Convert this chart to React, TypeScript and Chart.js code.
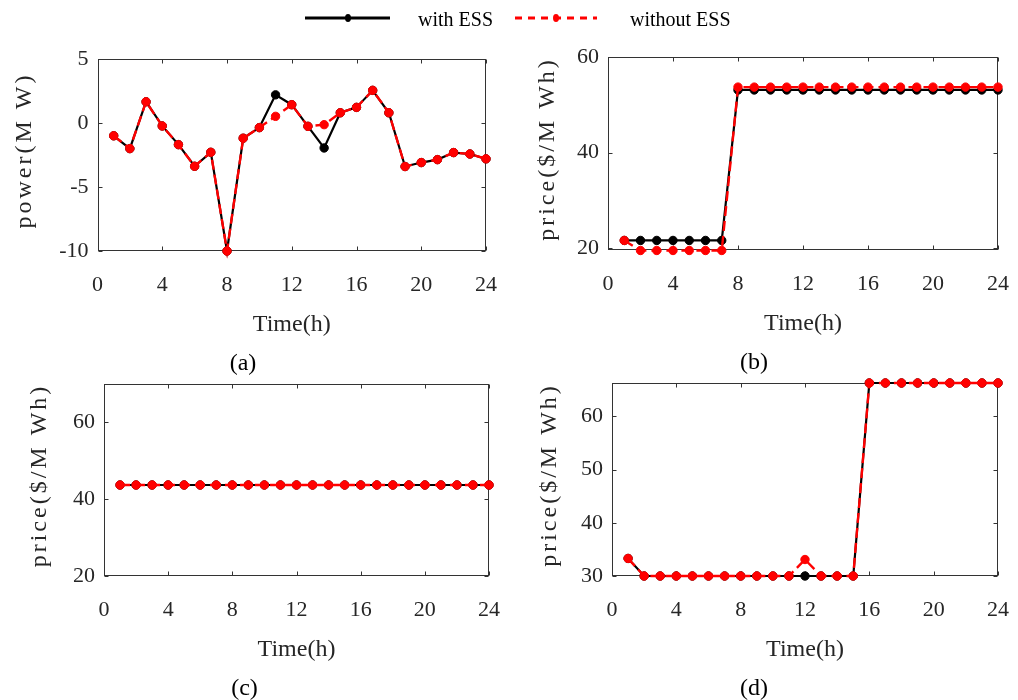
import React, { useEffect, useRef } from 'react';
import { Chart, registerables } from 'chart.js';

Chart.register(...registerables);

// ---------------- data ----------------
const hours = [1, 2, 3, 4, 5, 6, 7, 8, 9, 10, 11, 12, 13, 14, 15, 16, 17, 18, 19, 20, 21, 22, 23, 24];
const seriesLabels = ['with ESS', 'without ESS'];
const panelLabels = ['(a)', '(b)', '(c)', '(d)'];
const xTitle = 'Time(h)';
const yTitles = ['power(M W)', 'price($/M Wh)', 'price($/M Wh)', 'price($/M Wh)'];

const powerWithESS = [-1.0, -2.0, 1.66, -0.23, -1.69, -3.38, -2.29, -10.0, -1.19, -0.36, 2.2, 1.43, -0.26, -1.95, 0.8, 1.22, 2.55, 0.8, -3.4, -3.09, -2.86, -2.31, -2.42, -2.8];
const powerWithoutESS = [-1.0, -2.0, 1.66, -0.23, -1.69, -3.38, -2.29, -10.0, -1.19, -0.36, 0.52, 1.43, -0.26, -0.13, 0.8, 1.22, 2.55, 0.8, -3.4, -3.09, -2.86, -2.31, -2.42, -2.8];

const priceBWithESS = [21.6, 21.6, 21.6, 21.6, 21.6, 21.6, 21.6, 53.1, 53.1, 53.1, 53.1, 53.1, 53.1, 53.1, 53.1, 53.1, 53.1, 53.1, 53.1, 53.1, 53.1, 53.1, 53.1, 53.1];
const priceBWithoutESS = [21.6, 19.5, 19.5, 19.5, 19.5, 19.5, 19.5, 53.7, 53.7, 53.7, 53.7, 53.7, 53.7, 53.7, 53.7, 53.7, 53.7, 53.7, 53.7, 53.7, 53.7, 53.7, 53.7, 53.7];

const priceCWithESS = [43.7, 43.7, 43.7, 43.7, 43.7, 43.7, 43.7, 43.7, 43.7, 43.7, 43.7, 43.7, 43.7, 43.7, 43.7, 43.7, 43.7, 43.7, 43.7, 43.7, 43.7, 43.7, 43.7, 43.7];
const priceCWithoutESS = [43.7, 43.7, 43.7, 43.7, 43.7, 43.7, 43.7, 43.7, 43.7, 43.7, 43.7, 43.7, 43.7, 43.7, 43.7, 43.7, 43.7, 43.7, 43.7, 43.7, 43.7, 43.7, 43.7, 43.7];

const priceDWithESS = [33.3, 30, 30, 30, 30, 30, 30, 30, 30, 30, 30, 30, 30, 30, 30, 66.3, 66.3, 66.3, 66.3, 66.3, 66.3, 66.3, 66.3, 66.3];
const priceDWithoutESS = [33.3, 30, 30, 30, 30, 30, 30, 30, 30, 30, 30, 33.1, 30, 30, 30, 66.3, 66.3, 66.3, 66.3, 66.3, 66.3, 66.3, 66.3, 66.3];

const xRange = [0, 24];
const xStep = 4;
const yRangeA = [-10, 5];
const yStepA = 5;
const yRangeB = [19.6, 60];
const yStepB = 20;
const yRangeC = [20, 70];
const yStepC = 20;
const yRangeD = [30, 66.3];
const yStepD = 10;

// ---------------- styles ----------------
const FONT = '"Liberation Serif", "Times New Roman", serif';
const AXIS_COLOR = '#333333';
const TEXT_COLOR = '#262626';
const BLACK = '#000000';
const RED = '#ff0000';
const DASH = [10, 5];

type Panel = {
  left: number; top: number; width: number;
  padTop: number; padRight: number; plotH: number; yAxisW: number; titleOff: number;
  yMin: number; yMax: number; yStep: number; yFirstTick: number;
  withESS: number[]; withoutESS: number[]; label: string; yTitle: string;
};

const X_AXIS_H = 92;
const TITLE_SIZE = 24;
const TITLE_PAD_TOP = 6.6;
const TITLE_BOX = TITLE_SIZE * 1.2 + TITLE_PAD_TOP;

const panels: Panel[] = [
  { left: 0, top: 40, width: 510, padTop: 19, padRight: 24, plotH: 192, yAxisW: 97.5, titleOff: 73,
    yMin: yRangeA[0], yMax: yRangeA[1], yStep: yStepA, yFirstTick: -10,
    withESS: powerWithESS, withoutESS: powerWithoutESS, label: panelLabels[0], yTitle: yTitles[0] },
  { left: 510, top: 40, width: 508, padTop: 17, padRight: 20, plotH: 193, yAxisW: 98, titleOff: 60,
    yMin: yRangeB[0], yMax: yRangeB[1], yStep: yStepB, yFirstTick: 20,
    withESS: priceBWithESS, withoutESS: priceBWithoutESS, label: panelLabels[1], yTitle: yTitles[1] },
  { left: 0, top: 370, width: 510, padTop: 14, padRight: 21, plotH: 192, yAxisW: 104, titleOff: 64,
    yMin: yRangeC[0], yMax: yRangeC[1], yStep: yStepC, yFirstTick: 20,
    withESS: priceCWithESS, withoutESS: priceCWithoutESS, label: panelLabels[2], yTitle: yTitles[2] },
  { left: 510, top: 370, width: 508, padTop: 13, padRight: 20, plotH: 193, yAxisW: 102, titleOff: 62,
    yMin: yRangeD[0], yMax: yRangeD[1], yStep: yStepD, yFirstTick: 30,
    withESS: priceDWithESS, withoutESS: priceDWithoutESS, label: panelLabels[3], yTitle: yTitles[3] },
];

function canvasHeight(p: Panel) {
  return Math.ceil(p.padTop + p.plotH + X_AXIS_H + TITLE_BOX + 2);
}

// box with inward tick marks (MATLAB style)
const boxPlugin = {
  id: 'matlabBox',
  beforeDatasetsDraw(chart: any) {
    const { ctx, chartArea } = chart;
    const L = Math.round(chartArea.left) + 0.5;
    const R = Math.round(chartArea.right) - 0.5;
    const T = Math.round(chartArea.top) + 0.5;
    const B = Math.round(chartArea.bottom) - 0.5;
    ctx.save();
    ctx.strokeStyle = AXIS_COLOR;
    ctx.lineWidth = 1;
    ctx.strokeRect(L, T, R - L, B - T);
    const tl = 4;
    ctx.beginPath();
    for (const t of chart.scales.x.ticks) {
      const px = Math.round(chart.scales.x.getPixelForValue(t.value)) + 0.5;
      ctx.moveTo(px, B); ctx.lineTo(px, B - tl);
      ctx.moveTo(px, T); ctx.lineTo(px, T + tl);
    }
    for (const t of chart.scales.y.ticks) {
      const py = Math.round(chart.scales.y.getPixelForValue(t.value)) + 0.5;
      ctx.moveTo(L, py); ctx.lineTo(L + tl, py);
      ctx.moveTo(R, py); ctx.lineTo(R - tl, py);
    }
    ctx.stroke();
    ctx.restore();
  },
};

// letter-spaced rotated y title
const yTitlePlugin = {
  id: 'yTitle',
  afterDraw(chart: any, _args: any, opts: any) {
    const { ctx, chartArea } = chart;
    ctx.save();
    ctx.translate(chartArea.left - opts.offset, (chartArea.top + chartArea.bottom) / 2 - 3);
    ctx.rotate(-Math.PI / 2);
    (ctx as any).letterSpacing = '3px';
    ctx.font = `24px ${FONT}`;
    ctx.fillStyle = TEXT_COLOR;
    ctx.textAlign = 'center';
    ctx.textBaseline = 'middle';
    ctx.fillText(opts.text, 1.5, 0);
    ctx.restore();
  },
};

function toPoints(arr: number[]) {
  return hours.map((h, i) => ({ x: h, y: arr[i] }));
}

function makeConfig(p: Panel): any {
  const h = canvasHeight(p);
  const padBottom = h - (p.padTop + p.plotH + X_AXIS_H + TITLE_BOX);
  return {
    type: 'line',
    data: {
      datasets: [
        {
          label: seriesLabels[0], data: toPoints(p.withESS),
          borderColor: BLACK, backgroundColor: BLACK, borderWidth: 2.2,
          pointRadius: 4.2, pointBorderWidth: 1, pointBackgroundColor: BLACK, pointBorderColor: BLACK,
          tension: 0, clip: false, order: 1,
        },
        {
          label: seriesLabels[1], data: toPoints(p.withoutESS),
          borderColor: RED, backgroundColor: RED, borderWidth: 2.4, borderDash: DASH,
          pointRadius: 4.2, pointBorderWidth: 1, pointBackgroundColor: RED, pointBorderColor: RED,
          tension: 0, clip: false, order: 0,
        },
      ],
    },
    options: {
      animation: false,
      responsive: false,
      events: [],
      layout: {
        autoPadding: false,
        padding: { top: p.padTop, right: p.padRight, bottom: padBottom, left: 0 },
      },
      scales: {
        x: {
          type: 'linear', min: xRange[0], max: xRange[1],
          grid: { display: false, drawTicks: false }, border: { display: false },
          ticks: { stepSize: xStep, padding: 21, color: TEXT_COLOR, font: { family: FONT, size: 22 }, maxRotation: 0, includeBounds: false },
          title: { display: true, text: xTitle, color: TEXT_COLOR, font: { family: FONT, size: TITLE_SIZE }, padding: { top: 0, bottom: 3.6 } },
          afterFit: (axis: any) => {
            axis.height = X_AXIS_H;
            axis.paddingLeft = 0; axis.paddingRight = 0; axis.paddingTop = 0; axis.paddingBottom = 0;
          },
        },
        y: {
          type: 'linear', min: p.yMin, max: p.yMax,
          grid: { display: false, drawTicks: false }, border: { display: false },
          ticks: {
            stepSize: p.yStep, padding: 9, color: TEXT_COLOR, font: { family: FONT, size: 22 }, includeBounds: false,
          },
          afterBuildTicks: (axis: any) => {
            const ticks = [];
            for (let v = p.yFirstTick; v <= p.yMax + 1e-9; v += p.yStep) ticks.push({ value: v });
            axis.ticks = ticks;
          },
          afterFit: (axis: any) => {
            axis.width = p.yAxisW;
            axis.paddingLeft = 0; axis.paddingRight = 0; axis.paddingTop = 0; axis.paddingBottom = 0;
          },
        },
      },
      plugins: {
        legend: { display: false },
        tooltip: { enabled: false },
        title: {
          display: true, text: p.label, position: 'bottom', color: BLACK,
          font: { family: FONT, size: TITLE_SIZE, weight: 'normal' },
          padding: { top: TITLE_PAD_TOP, bottom: 0 },
        },
        yTitle: { text: p.yTitle, offset: p.titleOff },
      },
    },
    plugins: [boxPlugin, yTitlePlugin],
  };
}

// legend (figure level)
const legendItems = [
  { x0: 305, x1: 390, marker: 348, textX: 418 },
  { x0: 515, x1: 597, marker: 556, textX: 630 },
];
const legendPlugin = {
  id: 'figLegend',
  afterDraw(chart: any) {
    const { ctx } = chart;
    const y = 18;
    chart.data.datasets.forEach((ds: any, i: number) => {
      const it = legendItems[i];
      ctx.save();
      ctx.strokeStyle = ds.borderColor;
      ctx.lineWidth = 3;
      ctx.setLineDash(ds.borderDash || []);
      ctx.beginPath();
      ctx.moveTo(it.x0, y);
      ctx.lineTo(it.x1, y);
      ctx.stroke();
      ctx.setLineDash([]);
      ctx.fillStyle = ds.borderColor;
      ctx.beginPath();
      ctx.ellipse(it.marker, y, 3, 4, 0, 0, Math.PI * 2);
      ctx.fill();
      ctx.fillStyle = BLACK;
      ctx.font = `20px ${FONT}`;
      ctx.textAlign = 'left';
      ctx.textBaseline = 'middle';
      ctx.fillText(ds.label, it.textX, y + 3);
      ctx.restore();
    });
  },
};

function legendConfig(): any {
  return {
    type: 'line',
    data: {
      datasets: [
        { label: seriesLabels[0], data: [], borderColor: BLACK, borderDash: [] },
        { label: seriesLabels[1], data: [], borderColor: RED, borderDash: [7, 6] },
      ],
    },
    options: {
      animation: false, responsive: false, events: [],
      scales: { x: { display: false }, y: { display: false } },
      plugins: { legend: { display: false }, tooltip: { enabled: false } },
    },
    plugins: [legendPlugin],
  };
}

function ChartCanvas({ config, width, height, style }: { config: () => any; width: number; height: number; style: React.CSSProperties }) {
  const ref = useRef<HTMLCanvasElement | null>(null);
  useEffect(() => {
    if (!ref.current) return;
    const chart = new Chart(ref.current, config());
    return () => chart.destroy();
  }, []);
  return <canvas ref={ref} width={width} height={height} style={{ position: 'absolute', width, height, ...style }} />;
}

export default function App() {
  return (
    <div style={{ position: 'absolute', left: 0, top: 0, width: 1018, height: 700, background: '#ffffff', overflow: 'hidden' }}>
      <ChartCanvas config={legendConfig} width={1018} height={40} style={{ left: 0, top: 0 }} />
      {panels.map((p, i) => (
        <ChartCanvas key={i} config={() => makeConfig(p)} width={p.width} height={canvasHeight(p)} style={{ left: p.left, top: p.top }} />
      ))}
    </div>
  );
}
